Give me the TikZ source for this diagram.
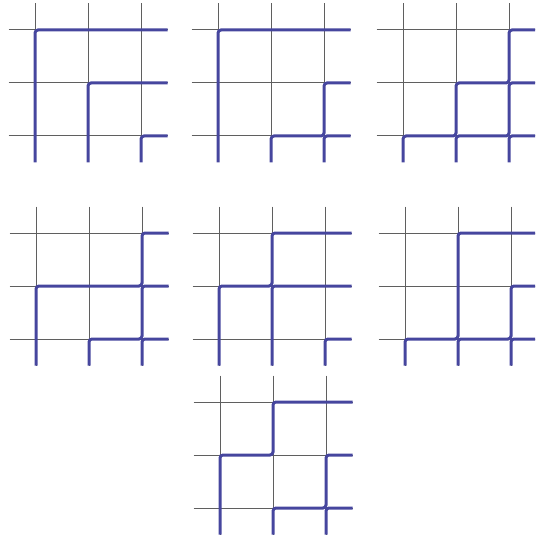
\documentclass[tikz,border=0pt]{standalone}
\usetikzlibrary{calc}
\definecolor{gridgray}{RGB}{95,95,95}
\definecolor{pathblue}{RGB}{70,70,158}
\tikzset{
  grid line/.style={gridgray, line width=1pt},
  path line/.style={pathblue, line width=3pt, rounded corners=3pt},
  cell/.style={x=53pt, y=-53pt},
}

\begin{document}
\begin{tikzpicture}[x=1pt, y=-1pt]
  \clip (0,0) rectangle (535,537);

  % Lattice origins (top-left crossing of each 3x3 grid)
  \coordinate (a) at (35,30);
  \coordinate (b) at (218,30);
  \coordinate (c) at (403,30);
  \coordinate (d) at (36,233);
  \coordinate (e) at (219,233);
  \coordinate (f) at (405,233);
  \coordinate (g) at (220,402);

  % Grey lattice lines
  \foreach \o in {a,b,c,d,e,f,g} {
    \begin{scope}[shift={(\o)}, cell]
      \foreach \k in {0,1,2} {
        \draw[grid line] (\k,-0.5) -- (\k,2.5);
        \draw[grid line] (-0.5,\k) -- (2.5,\k);
      }
    \end{scope}
  }

  % Osculating paths, entering at the bottom and leaving on the right
  \begin{scope}[shift={(a)}, cell]
    \draw[path line] (0,2.5) |- (2.5,0);
    \draw[path line] (1,2.5) |- (2.5,1);
    \draw[path line] (2,2.5) |- (2.5,2);
  \end{scope}

  \begin{scope}[shift={(b)}, cell]
    \draw[path line] (0,2.5) |- (2.5,0);
    \draw[path line] (1,2.5) |- (2,2) |- (2.5,1);
    \draw[path line] (2,2.5) |- (2.5,2);
  \end{scope}

  \begin{scope}[shift={(c)}, cell]
    \draw[path line] (0,2.5) |- (1,2) |- (2,1) |- (2.5,0);
    \draw[path line] (1,2.5) |- (2,2) |- (2.5,1);
    \draw[path line] (2,2.5) |- (2.5,2);
  \end{scope}

  \begin{scope}[shift={(d)}, cell]
    \draw[path line] (0,2.5) |- (2,1) |- (2.5,0);
    \draw[path line] (1,2.5) |- (2,2) |- (2.5,1);
    \draw[path line] (2,2.5) |- (2.5,2);
  \end{scope}

  \begin{scope}[shift={(e)}, cell]
    \draw[path line] (0,2.5) |- (1,1) |- (2.5,0);
    \draw[path line] (1,2.5) |- (2.5,1);
    \draw[path line] (2,2.5) |- (2.5,2);
  \end{scope}

  \begin{scope}[shift={(f)}, cell]
    \draw[path line] (0,2.5) |- (1,2) |- (2.5,0);
    \draw[path line] (1,2.5) |- (2,2) |- (2.5,1);
    \draw[path line] (2,2.5) |- (2.5,2);
  \end{scope}

  \begin{scope}[shift={(g)}, cell]
    \draw[path line] (0,2.5) |- (1,1) |- (2.5,0);
    \draw[path line] (1,2.5) |- (2,2) |- (2.5,1);
    \draw[path line] (2,2.5) |- (2.5,2);
  \end{scope}
\end{tikzpicture}
\end{document}
